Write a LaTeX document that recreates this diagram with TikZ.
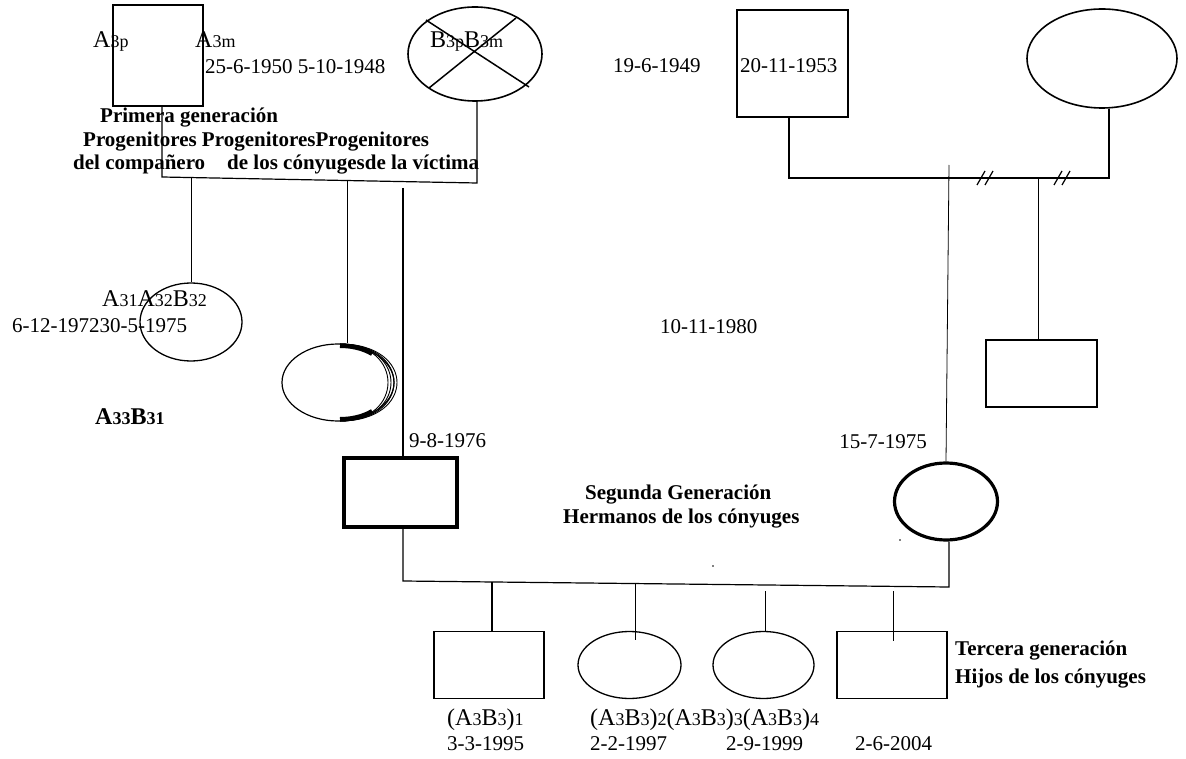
\documentclass[tikz,border=0pt]{standalone}
\usepackage{fontspec}
\setmainfont{Liberation Serif}
\usetikzlibrary{shapes.geometric,calc}
\newcommand\nmA[1]{{\fontsize{24}{24}\selectfont #1}}
\newcommand\nmS[1]{{\fontsize{18}{18}\selectfont #1}}
\begin{document}
\begin{tikzpicture}[x=1pt,y=-1pt,
  sq/.style={draw, rectangle, inner sep=0, line width=1.8pt},
  ov/.style={draw, ellipse, inner sep=0, line width=1.6pt},
  ln/.style={line width=1.2pt},
  thn/.style={line width=0.8pt},
  dt/.style={inner sep=0, anchor=base west, font=\fontsize{21}{21}\selectfont},
  gen/.style={inner sep=0, anchor=base west, font=\bfseries\fontsize{21}{21}\selectfont},
  nm/.style={inner sep=0, anchor=base west}]
\useasboundingbox (0,0) rectangle (1186,759);
% ---------- first generation, left ----------
\node[sq, minimum width=90pt, minimum height=101pt] (p1) at (158,55.5) {};
\node[nm] (t3p) at (93,48) {\nmA{A}\nmS{3p}};
\node[nm] (t3m) at (195,48) {\nmA{A}\nmS{3m}};
\node[dt] (d1) at (205,74) {25-6-1950 5-10-1948};
\node[ov, minimum width=134pt, minimum height=94pt] (p2) at (475,54) {};
\draw[line width=1.5pt] (426,20) -- (529,87) (516,18) -- (429,88);
\node[nm] (t3b) at (430,48) {\nmA{B}\nmS{3p}\nmA{B}\nmS{3m}};
\node[gen] (g1a) at (100,123) {Primera generación};
\node[gen] (g1b) at (83,147) {Progenitores ProgenitoresProgenitores};
\node[gen] (g1c) at (73,170) {del compañero\hspace{22pt}de los cónyugesde la víctima};
\coordinate (m1L) at (162,177);
\coordinate (m1R) at (477,183);
\draw[ln] (m1L |- p1.south) -- (m1L) -- (m1R) -- (m1R |- p2.south);
% second generation, left side
\node[ov, line width=1.3pt, minimum width=102pt, minimum height=78pt] (c1) at (191,322) {};
\coordinate (b1) at (191,178.5);
\draw[thn] (b1) -- (c1.north);
\node[nm] (t31) at (102,307) {\nmA{A}\nmS{31}\nmA{A}\nmS{32}\nmA{B}\nmS{32}};
\node[dt] (d31) at (12,333) {6-12-197230-5-1975};
\node[nm, font=\bfseries] (t33) at (95,424) {\nmA{A}\nmS{33}\nmA{B}\nmS{31}};
\node[ov, line width=1.2pt, minimum width=112pt, minimum height=77pt] (c2) at (338,382.5) {};
\coordinate (b2) at (347,180);
\draw[thn] (b2) -- (b2 |- c2.north);
\foreach \c in {64,68,72,76}
  \draw[line width=0.9pt] (340,344) .. controls (340+\c,344) and (340+\c,421) .. (340,421);
\draw[line width=4pt] (340,346) .. controls (350,346) and (362,348) .. (372,354);
\draw[line width=4pt] (340,419) .. controls (350,419) and (362,417) .. (372,411);
\node[sq, line width=3.5pt, minimum width=113pt, minimum height=69pt] (s2) at (400.5,492.5) {};
\coordinate (b3) at (403,188);
\draw[ln] (b3) -- (b3 |- s2.north);
\node[dt] (d32) at (409,447) {9-8-1976};
% ---------- first generation, right ----------
\node[sq, minimum width=111pt, minimum height=107pt] (p3) at (792.5,63.5) {};
\node[dt] (d3in) at (740,73) {20-11-1953};
\node[dt] (d3) at (613,73) {19-6-1949};
\node[ov, minimum width=150pt, minimum height=99pt] (p4) at (1102,58.5) {};
\coordinate (m3L) at (789,178);
\coordinate (m3R) at (1109,178);
\draw[ln] (m3L |- p3.south) -- (m3L) -- (m3R) -- (m3R |- p4.south);
\draw[ln] (977,185) -- (985,171) (985,185) -- (993,171);
\draw[ln] (1054,185) -- (1062,171) (1062,185) -- (1070,171);
\node[ov, line width=3.2pt, minimum width=103pt, minimum height=77pt] (e2) at (946,501.5) {};
\coordinate (b4) at (949,165);
\draw[thn] (b4) -- (e2.north);
\node[sq, minimum width=111pt, minimum height=67pt] (r5) at (1041.5,373.5) {};
\coordinate (b5) at (1038,178);
\draw[thn] (b5) -- (b5 |- r5.north);
\node[dt] (d10) at (660,334) {10-11-1980};
\node[dt, anchor=base east] (d15) at (927,448) {15-7-1975};
% ---------- second generation marriage ----------
\coordinate (m2L) at (403,581);
\coordinate (m2R) at (949,587);
\draw[ln] (m2L |- s2.south) -- (m2L) -- (m2R) -- (m2R |- e2.south);
\node[gen] (g2a) at (585,499) {Segunda Generación};
\node[gen] (g2b) at (563,523) {Hermanos de los cónyuges};
\fill (713,566) circle (0.8);
\fill (900,540) circle (0.8);
% ---------- third generation ----------
\node[sq, line width=1.3pt, minimum width=110pt, minimum height=67pt] (k1) at (489,665) {};
\node[ov, line width=1.3pt, minimum width=103pt, minimum height=67pt] (k2) at (629.5,665) {};
\node[ov, line width=1.3pt, minimum width=101pt, minimum height=67pt] (k3) at (763.5,665) {};
\node[sq, line width=1.3pt, minimum width=110pt, minimum height=67pt] (k4) at (892,665) {};
\coordinate (q1) at (492,582);
\coordinate (q2) at (635,583);
\coordinate (q3) at (765,591);
\coordinate (q4) at (893,591);
\draw[line width=1.6pt] (q1) -- (q1 |- k1.north);
\draw[thn] (q2) -- ($(q2 |- k2.north)+(0,9)$);
\draw[thn] (q3) -- (q3 |- k3.north);
\draw[thn] (q4) -- ($(q4 |- k4.north)+(0,10)$);
\node[nm] (l1) at (447,725) {\nmA{(A}\nmS{3}\nmA{B}\nmS{3}\nmA{)}\nmS{1}};
\node[nm] (l2) at (590,725) {\nmA{(A}\nmS{3}\nmA{B}\nmS{3}\nmA{)}\nmS{2}\nmA{(A}\nmS{3}\nmA{B}\nmS{3}\nmA{)}\nmS{3}\nmA{(A}\nmS{3}\nmA{B}\nmS{3}\nmA{)}\nmS{4}};
\node[dt] (dk1) at (447,750) {3-3-1995};
\node[dt] (dk2) at (590,750) {2-2-1997};
\node[dt] (dk3) at (726,750) {2-9-1999};
\node[dt] (dk4) at (855,750) {2-6-2004};
\node[gen] (g3a) at (955,655) {Tercera generación};
\node[gen] (g3b) at (955,683) {Hijos de los cónyuges};
\end{tikzpicture}
\end{document}
